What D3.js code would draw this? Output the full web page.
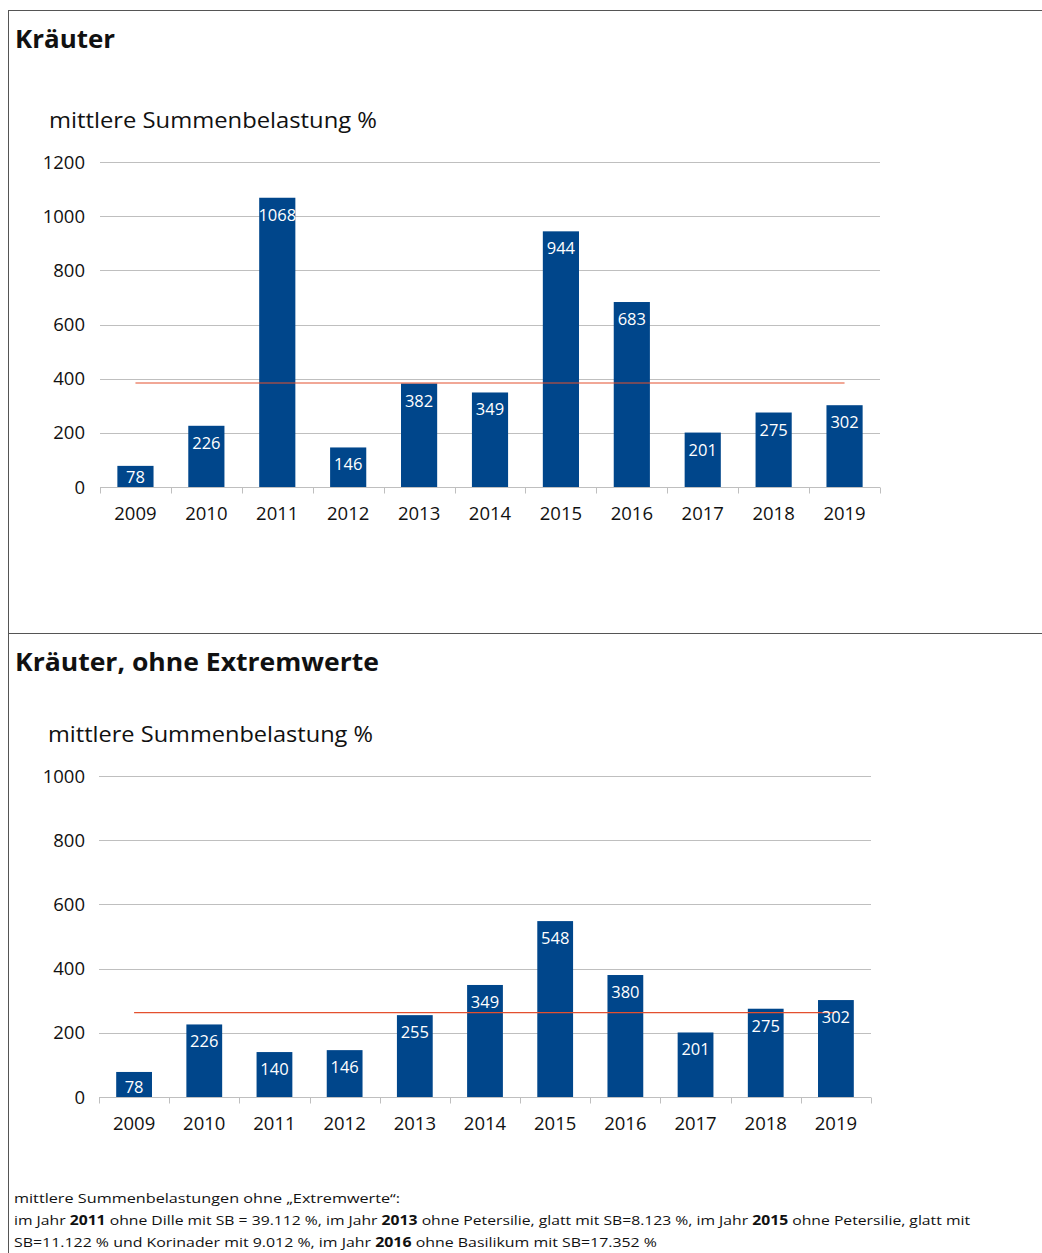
<!DOCTYPE html>
<html><head><meta charset="utf-8">
<script src="https://cdn.jsdelivr.net/npm/d3@7"></script>
<style>
html,body{margin:0;padding:0;background:#fff;}
svg{display:block;}
</style></head>
<body>
<svg id="c" width="1042" height="1253"></svg>
<script>
const years = ["2009","2010","2011","2012","2013","2014","2015","2016","2017","2018","2019"];
const valuesAll = [78,226,1068,146,382,349,944,683,201,275,302];
const valuesNoExt = [78,226,140,146,255,349,548,380,201,275,302];
const meanAll = 384;
const meanNoExt = 263;
const ticksAll = [0,200,400,600,800,1000,1200];
const ticksNoExt = [0,200,400,600,800,1000];
const titles = ["Kräuter","Kräuter, ohne Extremwerte"];
const axisTitle = "mittlere Summenbelastung %";

const FONT = "'Open Sans', Lato, sans-serif";
const NUMFONT = "'Open Sans', 'DejaVu Sans', sans-serif";
const BAR = "#00468b";
const MEAN = "#e4502e";
const GRID = "#bfbfbf";

const svg = d3.select("#c");

// frame
svg.append("line").attr("x1",8).attr("x2",1042).attr("y1",10.5).attr("y2",10.5).attr("stroke","#555");
svg.append("line").attr("x1",8.5).attr("x2",8.5).attr("y1",10).attr("y2",1253).attr("stroke","#555");
svg.append("line").attr("x1",8).attr("x2",1042).attr("y1",633.5).attr("y2",633.5).attr("stroke","#555");

function drawChart(cfg){
  const g = svg.append("g");
  g.append("text").attr("x",15).attr("y",cfg.titleY).attr("font-family",FONT)
    .attr("font-weight","bold").attr("font-size",25).attr("fill","#111")
    .attr("textLength",cfg.titleLen).attr("lengthAdjust","spacingAndGlyphs").text(cfg.title);
  g.append("text").attr("x",cfg.atX).attr("y",cfg.atY).attr("font-family",FONT)
    .attr("font-size",22).attr("fill","#111")
    .attr("textLength",cfg.atLen).attr("lengthAdjust","spacingAndGlyphs").text(axisTitle);

  const x = d3.scaleBand().domain(years).range([cfg.x0,cfg.x1]).paddingInner(0.49).paddingOuter(0.245);
  const xb = d3.scaleBand().domain(years).range([cfg.x0,cfg.x1]);
  const y = d3.scaleLinear().domain([0,cfg.ticks[cfg.ticks.length-1]]).range([cfg.y0,cfg.yTop]);

  // grid
  g.selectAll(".grid").data(cfg.ticks.filter(t=>t>0)).join("line")
    .attr("x1",cfg.x0).attr("x2",cfg.x1)
    .attr("y1",d=>Math.round(y(d))+0.5).attr("y2",d=>Math.round(y(d))+0.5)
    .attr("stroke",GRID).attr("stroke-width",1);

  // y axis labels
  g.selectAll(".yl").data(cfg.ticks).join("text")
    .attr("x",85).attr("y",d=>y(d)).attr("dy","0.36em")
    .attr("text-anchor","end").attr("font-family",NUMFONT).attr("font-size",18.5).attr("fill","#111")
    .text(d=>d);

  // bars
  g.selectAll(".bar").data(cfg.values).join("rect")
    .attr("x",(d,i)=>x(years[i])).attr("width",x.bandwidth())
    .attr("y",d=>y(d)).attr("height",d=>cfg.y0-y(d)).attr("fill",BAR);

  // x axis baseline and ticks
  const yb = Math.round(cfg.y0)+0.5;
  g.append("line").attr("x1",cfg.x0).attr("x2",cfg.x1).attr("y1",yb).attr("y2",yb).attr("stroke",GRID);
  const bounds = years.map(yr=>xb(yr)).concat([cfg.x1]);
  g.selectAll(".tk").data(bounds).join("line")
    .attr("x1",d=>Math.round(d)+0.5).attr("x2",d=>Math.round(d)+0.5)
    .attr("y1",yb).attr("y2",yb+6).attr("stroke",GRID);

  g.selectAll(".xl").data(years).join("text")
    .attr("x",d=>xb(d)+xb.bandwidth()/2).attr("y",cfg.y0+33)
    .attr("text-anchor","middle").attr("font-family",NUMFONT).attr("font-size",18.5).attr("fill","#111")
    .text(d=>d);

  // mean line
  g.append("line")
    .attr("x1",xb(years[0])+xb.bandwidth()/2).attr("x2",xb(years[years.length-1])+xb.bandwidth()/2)
    .attr("y1",y(cfg.mean)).attr("y2",y(cfg.mean))
    .attr("stroke",MEAN).attr("stroke-width",1.2);

  // labels
  g.selectAll(".vl").data(cfg.values).join("text")
    .attr("x",(d,i)=>xb(years[i])+xb.bandwidth()/2)
    .attr("y",d=>Math.min(y(d)+23, cfg.y0-4))
    .attr("text-anchor","middle").attr("font-family",NUMFONT).attr("font-size",16.5).attr("fill","#fff")
    .text(d=>d);
}

drawChart({title:titles[0],titleLen:100,titleY:48,atX:49,atY:128,atLen:328,x0:100,x1:880,y0:487,yTop:162,
  ticks:ticksAll,values:valuesAll,mean:meanAll});
drawChart({title:titles[1],titleLen:364,titleY:671,atX:48,atY:742,atLen:325,x0:99,x1:871,y0:1097,yTop:776,
  ticks:ticksNoExt,values:valuesNoExt,mean:meanNoExt});

// footnote
const fn = [
  [["mittlere Summenbelastungen ohne „Extremwerte“:",false]],
  [["im Jahr ",false],["2011",true],[" ohne Dille mit SB = 39.112 %, im Jahr ",false],["2013",true],
   [" ohne Petersilie, glatt mit SB=8.123 %, im Jahr ",false],["2015",true],[" ohne Petersilie, glatt mit",false]],
  [["SB=11.122 % und Korinader mit 9.012 %, im Jahr ",false],["2016",true],[" ohne Basilikum mit SB=17.352 %",false]]
];
const fnLens = [386, 956, 643];
const fnY = [1203, 1225, 1247];
fn.forEach((line,i)=>{
  const t = svg.append("text").attr("x",14).attr("y",fnY[i]).attr("font-family",FONT)
    .attr("font-size",13.5).attr("fill","#111")
    .attr("textLength",fnLens[i]).attr("lengthAdjust","spacingAndGlyphs");
  line.forEach(([s,b])=>t.append("tspan").attr("font-weight",b?"bold":"normal").text(s));
});
</script>
</body></html>
